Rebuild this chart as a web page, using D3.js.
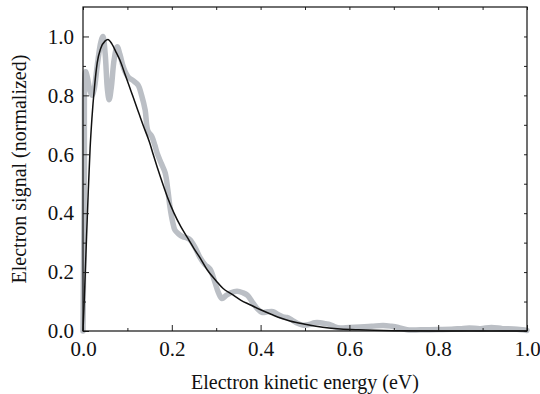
<!DOCTYPE html>
<html lang="en">
<head>
	<meta charset="UTF-8">
	<title>Electron signal</title>
	<script type="text/javascript" src="https://d3js.org/d3.v7.min.js"></script>
	<style>
		html, body { margin: 0; padding: 0; background: #fff; }
		svg text { font-family: "Liberation Serif", "Times New Roman", serif; fill: #111; }
	</style>
</head>
<body>
	<svg></svg>

	<script type="text/javascript">
		var dataX = [0.000, 0.003, 0.006, 0.010, 0.015, 0.020, 0.025, 0.032, 0.040, 0.045,
			0.050, 0.055, 0.059, 0.064, 0.070, 0.077, 0.083, 0.090, 0.095, 0.103,
			0.113, 0.124, 0.132, 0.140, 0.146, 0.155, 0.162, 0.167, 0.176, 0.185,
			0.191, 0.196, 0.202, 0.207, 0.215, 0.225, 0.234, 0.241, 0.252, 0.263,
			0.275, 0.286, 0.297, 0.305, 0.313, 0.322, 0.333, 0.347, 0.360, 0.370,
			0.383, 0.393, 0.403, 0.415, 0.428, 0.440, 0.450, 0.459, 0.470, 0.482,
			0.495, 0.510, 0.522, 0.534, 0.546, 0.556, 0.566, 0.579, 0.600, 0.624,
			0.650, 0.676, 0.695, 0.710, 0.730, 0.760, 0.800, 0.830, 0.850, 0.870,
			0.895, 0.920, 0.945, 0.970, 0.990, 1.000];
		var dataY = [0.00, 0.50, 0.88, 0.86, 0.82, 0.80, 0.82, 0.90, 0.98, 1.00,
			0.94, 0.82, 0.785, 0.83, 0.92, 0.965, 0.94, 0.90, 0.88, 0.86,
			0.85, 0.835, 0.80, 0.75, 0.68, 0.66, 0.63, 0.604, 0.57, 0.537,
			0.48, 0.42, 0.37, 0.343, 0.33, 0.32, 0.316, 0.31, 0.285, 0.251,
			0.225, 0.21, 0.166, 0.13, 0.11, 0.12, 0.13, 0.135, 0.13, 0.122,
			0.095, 0.075, 0.063, 0.065, 0.066, 0.055, 0.048, 0.046, 0.038, 0.027,
			0.020, 0.022, 0.028, 0.028, 0.025, 0.022, 0.015, 0.010, 0.012, 0.014,
			0.016, 0.019, 0.016, 0.012, 0.004, 0.004, 0.005, 0.006, 0.008, 0.010,
			0.008, 0.012, 0.008, 0.007, 0.004, 0.002];

		// fitted curve (black line)
		var fitX = [0.000, 0.004, 0.008, 0.012, 0.016, 0.020, 0.026, 0.032, 0.040, 0.050,
			0.056, 0.065, 0.075, 0.083, 0.095, 0.108, 0.121, 0.135, 0.150, 0.158,
			0.175, 0.190, 0.205, 0.220, 0.236, 0.250, 0.265, 0.280, 0.300, 0.315,
			0.335, 0.355, 0.375, 0.400, 0.425, 0.445, 0.466, 0.500, 0.540, 0.580,
			0.620, 0.700, 0.800, 1.000];
		var fitY = [0.00, 0.15, 0.32, 0.48, 0.62, 0.72, 0.83, 0.91, 0.96, 0.985,
			0.99, 0.975, 0.945, 0.92, 0.87, 0.815, 0.76, 0.70, 0.64, 0.60,
			0.52, 0.455, 0.40, 0.355, 0.315, 0.28, 0.245, 0.207, 0.17, 0.145,
			0.125, 0.105, 0.09, 0.072, 0.056, 0.044, 0.034, 0.023, 0.013, 0.007,
			0.004, 0.001, 0.000, 0.000];

		var majorTicks = [0, 0.2, 0.4, 0.6, 0.8, 1.0];
		var minorTicks = [0.1, 0.3, 0.5, 0.7, 0.9];
		var allTicks = [0, 0.1, 0.2, 0.3, 0.4, 0.5, 0.6, 0.7, 0.8, 0.9, 1.0];

		var width = 540, height = 394;
		var padL = 83, padR = 527, padT = 7, padB = 331;

		var svg = d3.select("svg").attr("width", width).attr("height", height);

		var x = d3.scaleLinear().domain([0, 1]).range([padL, padR]);
		var y = d3.scaleLinear().domain([0, 1.1]).range([padB, padT]);

		var grey = dataX.map(function(d, i) { return [d, dataY[i]]; });
		var fit = fitX.map(function(d, i) { return [d, fitY[i]]; });

		var line = d3.line()
			.x(function(d) { return x(d[0]); })
			.y(function(d) { return y(d[1]); });

		svg.append("path")
			.datum(grey)
			.attr("d", line.curve(d3.curveCatmullRom))
			.attr("fill", "none")
			.attr("stroke", "#bbbfc5")
			.attr("stroke-width", 5.5)
			.attr("stroke-linejoin", "round")
			.attr("stroke-linecap", "round");

		svg.append("path")
			.datum(fit)
			.attr("d", line.curve(d3.curveMonotoneX))
			.attr("fill", "none")
			.attr("stroke", "#111")
			.attr("stroke-width", 1.5);

		function styleAxis(g) {
			g.select(".domain").remove();
			g.selectAll(".tick line").attr("stroke", "#222").attr("stroke-width", 1);
			g.selectAll(".tick text").attr("font-size", "21px");
		}

		var fmt = d3.format(".1f");

		// bottom
		svg.append("g").attr("transform", "translate(0," + padB + ")")
			.call(d3.axisBottom(x).tickValues(majorTicks).tickSizeInner(-6).tickSizeOuter(0).tickPadding(10).tickFormat(fmt))
			.call(styleAxis);
		svg.append("g").attr("transform", "translate(0," + padB + ")")
			.call(d3.axisBottom(x).tickValues(minorTicks).tickSizeInner(-3).tickSizeOuter(0).tickFormat(""))
			.call(styleAxis);

		// left
		svg.append("g").attr("transform", "translate(" + padL + ",0)")
			.call(d3.axisLeft(y).tickValues(majorTicks).tickSizeInner(-6).tickSizeOuter(0).tickPadding(9).tickFormat(fmt))
			.call(styleAxis);
		svg.append("g").attr("transform", "translate(" + padL + ",0)")
			.call(d3.axisLeft(y).tickValues(minorTicks).tickSizeInner(-3).tickSizeOuter(0).tickFormat(""))
			.call(styleAxis);

		// top and right, small ticks only
		svg.append("g").attr("transform", "translate(0," + padT + ")")
			.call(d3.axisTop(x).tickValues(allTicks).tickSizeInner(-3).tickSizeOuter(0).tickFormat(""))
			.call(styleAxis);
		svg.append("g").attr("transform", "translate(" + padR + ",0)")
			.call(d3.axisRight(y).tickValues(allTicks).tickSizeInner(-3).tickSizeOuter(0).tickFormat(""))
			.call(styleAxis);

		// frame
		svg.append("rect")
			.attr("x", padL).attr("y", padT)
			.attr("width", padR - padL).attr("height", padB - padT)
			.attr("fill", "none")
			.attr("stroke", "#111")
			.attr("stroke-width", 1.2);

		svg.append("text")
			.attr("x", (padL + padR) / 2)
			.attr("y", 389)
			.attr("text-anchor", "middle")
			.attr("font-size", "20px")
			.text("Electron kinetic energy (eV)");

		svg.append("text")
			.attr("transform", "translate(26," + ((padT + padB) / 2) + ") rotate(-90)")
			.attr("text-anchor", "middle")
			.attr("font-size", "20px")
			.text("Electron signal (normalized)");
	</script>
</body>
</html>
